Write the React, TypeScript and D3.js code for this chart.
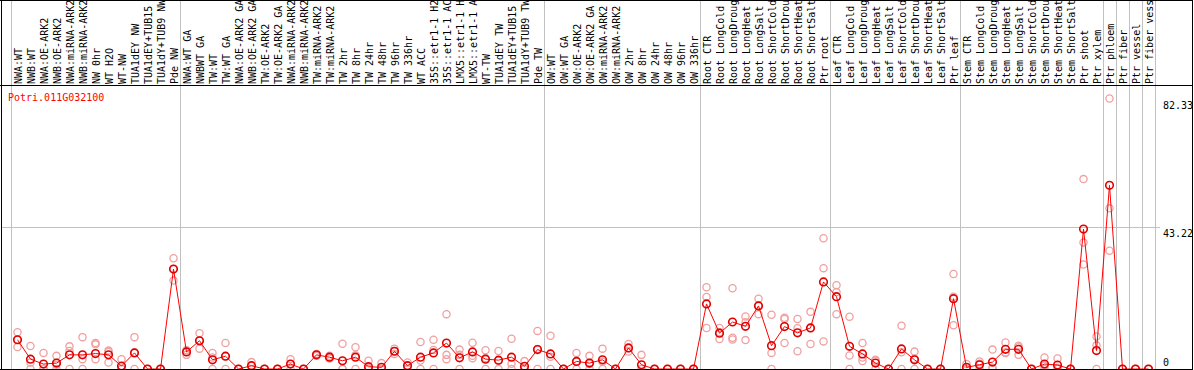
import React from 'react';
import * as d3 from 'd3';

const geneId = 'Potri.011G032100';

const labels = [
  'NWA:WT', 'NWB:WT', 'NWA:OE-ARK2', 'NWB:OE-ARK2', 'NWA:miRNA-ARK2', 'NWB:miRNA-ARK2', 'NW 0hr', 'WT H2O', 'WT-NW',
  'TUA1dEY NW', 'TUA1dEY+TUB15 NW', 'TUA1dY+TUB9 NW', 'Pde NW',
  'NWA:WT GA', 'NWBWT GA', 'TW:WT', 'TW:WT GA', 'NWA:OE-ARK2 GA', 'NWB:OE-ARK2 GA', 'TW:OE-ARK2', 'TW:OE-ARK2 GA',
  'NWA:miRNA-ARK2 GA', 'NWB:miRNA-ARK2 GA', 'TW:miRNA-ARK2', 'TW:miRNA-ARK2 GA', 'TW 2hr', 'TW 8hr', 'TW 24hr', 'TW 48hr',
  'TW 96hr', 'TW 336hr', 'WT ACC', '35S::etr1-1 H2O', '35S::etr1-1 ACC', 'LMX5::etr1-1 H2O', 'LMX5::etr1-1 ACC', 'WT-TW',
  'TUA1dEY TW', 'TUA1dEY+TUB15 TW', 'TUA1dY+TUB9 TW', 'Pde TW',
  'OW:WT', 'OW:WT GA', 'OW:OE-ARK2', 'OW:OE-ARK2 GA', 'OW:miRNA-ARK2', 'OW:miRNA-ARK2 GA', 'OW 2hr', 'OW 8hr', 'OW 24hr',
  'OW 48hr', 'OW 96hr', 'OW 336hr',
  'Root CTR', 'Root LongCold', 'Root LongDrought', 'Root LongHeat', 'Root LongSalt', 'Root ShortCold', 'Root ShortDrought',
  'Root ShortHeat', 'Root ShortSalt', 'Ptr root',
  'Leaf CTR', 'Leaf LongCold', 'Leaf LongDrought', 'Leaf LongHeat', 'Leaf LongSalt', 'Leaf ShortCold', 'Leaf ShortDrought',
  'Leaf ShortHeat', 'Leaf ShortSalt', 'Ptr leaf',
  'Stem CTR', 'Stem LongCold', 'Stem LongDrought', 'Stem LongHeat', 'Stem LongSalt', 'Stem ShortCold', 'Stem ShortDrought',
  'Stem ShortHeat', 'Stem ShortSalt', 'Ptr shoot', 'Ptr xylem',
  'Ptr phloem', 'Ptr fiber', 'Ptr vessel', 'Ptr fiber vessel',
];

const meanValues = [
  8.9, 3.0, 1.5, 1.8, 4.3, 4.3, 4.7, 4.3, 0.9, 4.9, 0, 0, 30.4,
  5.2, 8.6, 2.8, 3.9, 0, 1.0, 0, 0, 1.5, 0, 4.3, 3.6, 2.5, 3.6, 0.7, 0.5, 5.4, 1.0, 3.6, 4.9, 7.9, 3.4, 5.2, 3.0, 2.7, 3.6, 0.8, 5.9,
  4.6, 0, 2.3, 1.8, 2.8, 0, 6.4, 1.3, 0, 0, 0, 0,
  19.8, 10.9, 14.3, 13.0, 19.2, 7.1, 12.9, 11.0, 12.5, 26.5,
  22.0, 6.9, 4.6, 1.8, 0, 6.1, 2.8, 0, 0, 21.4,
  0.5, 1.3, 2.1, 6.0, 6.0, 0, 1.5, 1.2, 0, 42.6, 5.6,
  55.9, 0, 0, 0,
];

const rep1 = [
  11.2, 7.0, 4.9, 4.0, 6.9, 9.7, 7.9, 5.6, 3.0, 9.7, 0, 0, 33.7,
  5.7, 10.9, 4.9, 7.9, 0, 2.1, 0, 0, 3.0, 0, 4.6, 4.0, 7.7, 6.6, 2.5, 1.8, 6.2, 2.0, 8.2, 8.9, 16.7, 5.9, 8.0, 5.7, 5.5, 9.2, 2.4, 11.6,
  10.1, 0, 4.9, 4.0, 6.2, 0, 7.6, 4.3, 0, 0, 0, 0,
  24.9, 12.5, 24.6, 16.0, 21.4, 16.5, 15.2, 15.2, 17.4, 39.8,
  25.5, 15.9, 7.9, 2.8, 0, 13.2, 5.3, 0, 0, 28.9,
  1.5, 2.3, 5.9, 8.1, 7.1, 0, 3.5, 3.2, 0, 57.8, 9.9,
  82.33, 0, 0, 0,
];

const rep2 = [
  6.7, 2.0, 0, 1.3, 5.5, 3.0, 7.5, 5.2, 0, 5.0, 0, 0, 30.4,
  5.6, 6.2, 3.5, 3.9, 0, 1.0, 0, 0, 1.5, 0, 4.3, 3.6, 0, 4.2, 0, 0, 5.4, 1.0, 2.6, 5.8, 4.3, 4.3, 4.0, 3.3, 2.6, 1.6, 0, 6.1,
  3.7, 0, 2.3, 1.5, 2.2, 0, 6.3, 0, 0, 0, 0, 0,
  21.9, 11.2, 9.5, 14.2, 19.4, 4.9, 15.6, 12.4, 12.5, 30.7,
  23.4, 4.1, 3.5, 2.5, 0, 5.1, 3.1, 0, 0, 22.0,
  0, 1.6, 0.4, 5.0, 6.6, 0, 1.0, 0.4, 0, 38.5, 7.2,
  48.9, 0, 0, 0,
];

const rep3 = [
  8.9, 0, 0, 0, 0, 0, 3.0, 2.0, 0, 0, 0, 0, 26.9,
  4.3, 8.7, 0, 0, 0, 0, 0, 0, 0, 0, 4.0, 3.2, 0, 0, 0, 0, 4.6, 0, 0, 0, 3.0, 0, 3.3, 0, 0, 0, 0, 0,
  0, 0, 0, 0, 0, 0, 5.3, 0, 0, 0, 0, 0,
  12.5, 9.1, 9.0, 8.8, 16.7, 0, 7.9, 5.4, 7.6, 8.4,
  16.7, 0, 2.4, 0, 0, 0, 0, 0, 0, 13.3,
  0, 0, 0, 4.9, 4.3, 0, 0, 0, 0, 31.8, 0,
  36.0, 0, 0, 0,
];

const groupStarts = [0, 13, 41, 53, 63, 73, 84, 85, 86, 87];
const yTicks = [0, 43.22, 82.33];
const gridTicks = [43.22];

const W = 1194;
const H = 370;
const FONT = '"DejaVu Sans Mono", "Liberation Mono", monospace';

export default function App() {
  const n = labels.length;
  const x = d3.scaleLinear().domain([0, n]).range([11, 11 + 13 * n]);
  const y = d3.scaleLinear().domain([0, 82.33]).range([369, 98.5]);
  const cx = (i: number) => x(i + 0.5);

  const line = d3
    .line<number>()
    .x((_, i) => cx(i))
    .y((d) => y(d));

  const reps = [rep1, rep2, rep3];
  const boundaries = [...groupStarts, n];

  return (
    <div style={{ position: 'absolute', left: 0, top: 0 }}>
      <svg width={W} height={H} style={{ display: 'block', background: '#fff' }}>
        <defs>
          <clipPath id="labelClip">
            <rect x={0} y={1} width={W} height={84} />
          </clipPath>
          <clipPath id="plotClip">
            <rect x={2} y={86} width={1190} height={283} />
          </clipPath>
        </defs>
        <rect x={0} y={0} width={W} height={H} fill="#fff" />

        {/* horizontal grid */}
        {gridTicks.map((t) => (
          <line key={t} x1={2} x2={1160} y1={Math.round(y(t)) + 0.5} y2={Math.round(y(t)) + 0.5} stroke="#c0c0c0" />
        ))}

        {/* group separators */}
        {boundaries.map((b) => (
          <line key={b} x1={Math.round(x(b)) + 0.5} x2={Math.round(x(b)) + 0.5} y1={0} y2={369} stroke="#c0c0c0" />
        ))}

        {/* column labels */}
        <g clipPath="url(#labelClip)">
          {labels.map((l, i) => (
            <text
              key={i}
              transform={`translate(${cx(i) + 4},84) rotate(-90)`}
              fontFamily={FONT}
              fontSize={10}
              fill="#000"
            >
              {l}
            </text>
          ))}
        </g>

        {/* frame */}
        <line x1={0} x2={1193} y1={0.5} y2={0.5} stroke="#000" />
        <line x1={0} x2={1193} y1={85.5} y2={85.5} stroke="#000" />
        <line x1={1.5} x2={1.5} y1={0} y2={370} stroke="#000" />
        <line x1={1192.5} x2={1192.5} y1={0} y2={370} stroke="#000" />

        <text x={8} y={101} fontFamily={FONT} fontSize={10} fill="#f00">
          {geneId}
        </text>

        {/* y tick labels */}
        {yTicks.map((t) => (
          <text
            key={t}
            x={1163}
            y={t === 0 ? y(t) - 3 : y(t) + 10}
            fontFamily={FONT}
            fontSize={10}
            fill="#000"
          >
            {t === 0 ? '0' : t.toFixed(2)}
          </text>
        ))}

        <g clipPath="url(#plotClip)">
          {reps.map((r, k) =>
            r.map((v, i) => (
              <circle key={`r${k}-${i}`} cx={cx(i)} cy={y(v)} r={3.6} fill="none" stroke="#f0a0a0" strokeWidth={1.3} />
            ))
          )}
          <path d={line(meanValues) || ''} fill="none" stroke="#f00" strokeWidth={1} />
          {meanValues.map((v, i) => (
            <circle key={`m${i}`} cx={cx(i)} cy={y(v)} r={3.8} fill="none" stroke="#e00000" strokeWidth={1.6} />
          ))}
        </g>

        <line x1={0} x2={1193} y1={369.5} y2={369.5} stroke="#000" />
      </svg>
    </div>
  );
}
